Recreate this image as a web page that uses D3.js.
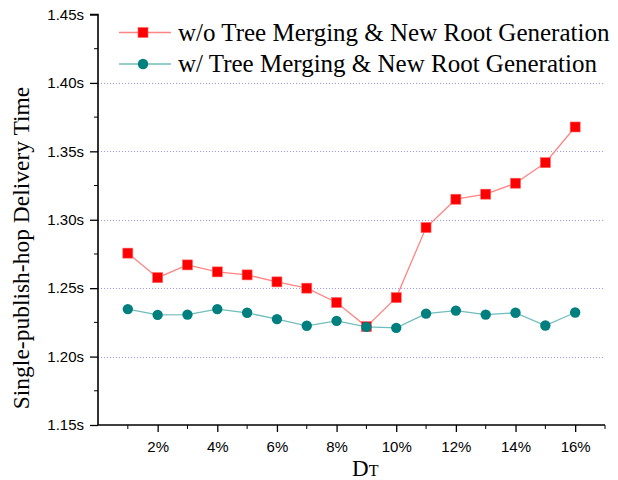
<!DOCTYPE html>
<html lang="en">
<head>
<meta charset="utf-8">
<script src="https://d3js.org/d3.v7.min.js"></script>
<style>
  body { margin: 0; background: #fff; }
  svg { display: block; }
</style>
</head>
<body>
<div id="chart"></div>
<script>
// D_T values (%)
var dtValues = [1, 2, 3, 4, 5, 6, 7, 8, 9, 10, 11, 12, 13, 14, 15, 16];
// single-publish-hop delivery time (s)
var withoutMerging = [1.2756, 1.2577, 1.2670, 1.2619, 1.2597, 1.2546, 1.2500, 1.2395,
                      1.2219, 1.2431, 1.2943, 1.3150, 1.3187, 1.3267, 1.3417, 1.3678];
var withMerging = [1.2347, 1.2305, 1.2307, 1.2347, 1.2320, 1.2274, 1.2225, 1.2261,
                   1.2217, 1.2210, 1.2314, 1.2336, 1.2307, 1.2320, 1.2227, 1.2322];
var seriesNames = ["w/o Tree Merging & New Root Generation", "w/ Tree Merging & New Root Generation"];
var xMajorTicks = [2, 4, 6, 8, 10, 12, 14, 16];
var xMinorTicks = [1, 3, 5, 7, 9, 11, 13, 15, 17];
var yMajorTicks = [1.15, 1.20, 1.25, 1.30, 1.35, 1.40, 1.45];
var yMinorTicks = [1.175, 1.225, 1.275, 1.325, 1.375, 1.425];
var gridTicks = [1.20, 1.25, 1.30, 1.35, 1.40];

var W = 618, H = 480;
var plotL = 98, plotR = 605, plotT = 14.5, plotB = 425;

var svg = d3.select("#chart").append("svg")
    .attr("width", W)
    .attr("height", H);

var x = d3.scaleLinear().domain([0, 17]).range([plotL, plotR]);
var y = d3.scaleLinear().domain([1.15, 1.45]).range([plotB, plotT]);

// grid lines
svg.append("g").selectAll("line")
    .data(gridTicks)
    .enter().append("line")
    .attr("x1", plotL).attr("x2", plotR)
    .attr("y1", function(d) { return Math.round(y(d)) + 0.5; })
    .attr("y2", function(d) { return Math.round(y(d)) + 0.5; })
    .attr("stroke", "#9a9aff")
    .attr("stroke-width", 1)
    .attr("stroke-dasharray", "1,2");

// x axis
var xAxis = svg.append("g")
    .attr("transform", "translate(0," + plotB + ")")
    .call(d3.axisBottom(x).tickValues(xMajorTicks).tickSize(7).tickPadding(9)
        .tickFormat(function(d) { return d + "%"; }));
xAxis.append("g").selectAll("line")
    .data(xMinorTicks)
    .enter().append("line")
    .attr("x1", function(d) { return x(d); })
    .attr("x2", function(d) { return x(d); })
    .attr("y1", 0).attr("y2", 4)
    .attr("stroke", "#000");

// y axis
var yAxis = svg.append("g")
    .attr("transform", "translate(" + plotL + ",0)")
    .call(d3.axisLeft(y).tickValues(yMajorTicks).tickSize(8).tickPadding(6)
        .tickFormat(function(d) { return d3.format(".2f")(d) + "s"; }));
yAxis.append("g").selectAll("line")
    .data(yMinorTicks)
    .enter().append("line")
    .attr("x1", 0).attr("x2", -4)
    .attr("y1", function(d) { return y(d); })
    .attr("y2", function(d) { return y(d); })
    .attr("stroke", "#000");

svg.selectAll(".domain").attr("stroke-width", 1.6);
svg.selectAll(".tick line").attr("stroke-width", 1.3);
svg.selectAll(".tick text")
    .style("font-family", "Liberation Sans, Arial, sans-serif")
    .style("font-size", "15px")
    .attr("fill", "#000");
// plain axis lines without end caps
xAxis.select(".domain").attr("d", "M" + plotL + ",0H" + plotR);
yAxis.select(".domain").attr("d", "M0," + plotB + "V" + plotT + "H-8");

// series
var series = [
    { name: seriesNames[0], values: withoutMerging, line: "#ff8484", fill: "#ff0000", shape: "square" },
    { name: seriesNames[1], values: withMerging, line: "#72bcbc", fill: "#007f7f", shape: "circle" }
];

var line = d3.line()
    .x(function(d, i) { return x(dtValues[i]); })
    .y(function(d) { return y(d); });

function drawMarker(g, s, cx, cy) {
    if (s.shape === "square") {
        g.append("rect")
            .attr("x", cx - 5).attr("y", cy - 5)
            .attr("width", 10).attr("height", 10)
            .attr("fill", s.fill)
            .attr("stroke", "#ff6060").attr("stroke-width", 0.6);
    } else {
        g.append("circle")
            .attr("cx", cx).attr("cy", cy).attr("r", 5.2)
            .attr("fill", s.fill);
    }
}

series.forEach(function(s) {
    svg.append("path")
        .datum(s.values)
        .attr("fill", "none")
        .attr("stroke", s.line)
        .attr("stroke-width", 1.3)
        .attr("d", line);
});
series.forEach(function(s) {
    var g = svg.append("g");
    s.values.forEach(function(v, i) {
        drawMarker(g, s, x(dtValues[i]), y(v));
    });
});

// legend
var legend = svg.append("g");
series.forEach(function(s, i) {
    var ly = 32.5 + i * 31.5;
    legend.append("line")
        .attr("x1", 119).attr("x2", 171)
        .attr("y1", ly).attr("y2", ly)
        .attr("stroke", s.line).attr("stroke-width", 1.3);
    drawMarker(legend, s, 143, ly);
    legend.append("text")
        .attr("x", 178).attr("y", ly + 8)
        .style("font-family", "Liberation Serif, Times New Roman, serif")
        .style("font-size", "25px")
        .text(s.name);
});

// axis titles
svg.append("text")
    .attr("transform", "translate(29,248) rotate(-90)")
    .attr("text-anchor", "middle")
    .style("font-family", "Liberation Serif, Times New Roman, serif")
    .style("font-size", "23.5px")
    .text("Single-publish-hop Delivery Time");

var xt = svg.append("text")
    .attr("x", 352).attr("y", 476)
    .style("font-family", "Liberation Serif, Times New Roman, serif")
    .style("font-size", "23px");
xt.append("tspan").text("D");
xt.append("tspan").style("font-size", "16px").text("T");
</script>
</body>
</html>
